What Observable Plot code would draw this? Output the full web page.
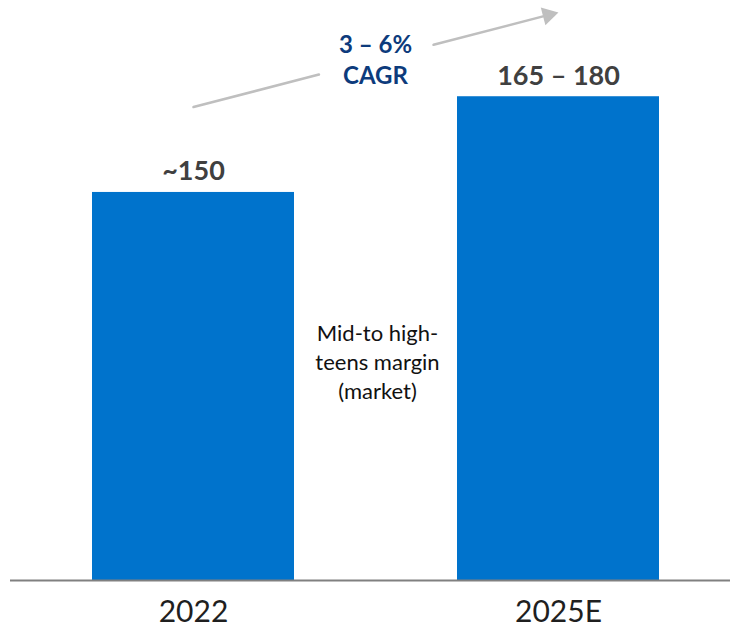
<!DOCTYPE html>
<html>
<head>
<meta charset="utf-8">
<script src="https://cdn.jsdelivr.net/npm/d3@7"></script>
<script src="https://cdn.jsdelivr.net/npm/@observablehq/plot@0.6"></script>
<style>
  html, body { margin: 0; padding: 0; background: #fff; }
  #chart { width: 730px; height: 630px; }
</style>
</head>
<body>
<div id="chart"></div>
<script>
// ---- data ----
const categories = ["2022", "2025E"];
const barValues = [150, 187];              // visual bar heights (market size)
const valueLabels = ["~150", "165 – 180"];
const cagrLines = ["3 – 6%", "CAGR"];
const noteLines = ["Mid-to high-", "teens margin", "(market)"];
const arrowFrom = "2022";
const arrowTo = "2025E";
const arrowY = [183, 219.6];

const bars = categories.map((c, i) => ({cat: c, value: barValues[i], label: valueLabels[i]}));
const arrowData = [{x1: arrowFrom, x2: arrowTo, y1: arrowY[0], y2: arrowY[1]}];

const font = "Lato, 'Open Sans', sans-serif";

const chart = Plot.plot({
  width: 730,
  height: 630,
  marginLeft: 10,
  marginRight: 0,
  marginTop: 0,
  marginBottom: 50,
  style: {fontFamily: font, background: "#fff", overflow: "visible"},
  x: {domain: categories, paddingInner: 0.446, paddingOuter: 0.2093, align: 0.537, label: null},
  y: {domain: [0, 224.2], axis: null},
  marks: [
    Plot.barY(bars, {x: "cat", y: "value", fill: "#0073CC"}),
    Plot.ruleY([0], {stroke: "#808080", strokeWidth: 2}),
    Plot.axisX({tickSize: 0, tickPadding: 20, fontSize: 30, color: "#1f1f1f", label: null}),
    Plot.text(bars, {x: "cat", y: "value", text: "label", lineAnchor: "bottom", dy: -12,
      fontSize: 27, fontWeight: "bold", fill: "#404040"}),
    // growth arrow (two segments with a gap for the CAGR label)
    Plot.arrow(arrowData, {x1: "x1", y1: "y1", x2: "x2", y2: "y2", stroke: "#BFBFBF", strokeWidth: 2.5,
      headLength: 0, insetEnd: 247.5}),
    Plot.arrow(arrowData, {x1: "x1", y1: "y1", x2: "x2", y2: "y2", stroke: "#BFBFBF", strokeWidth: 2.5,
      headLength: 0, insetStart: 248, insetEnd: 13}),
    Plot.dot(arrowData, {x: "x2", y: "y2", symbol: "triangle", r: 6.8, rotate: 75.4,
      fill: "#BFBFBF", stroke: null, dx: -10.3, dy: 2.7}),
    Plot.text([cagrLines.join("\n")], {frameAnchor: "top", lineAnchor: "top", dx: 5, dy: 31,
      fontSize: 24, fontWeight: "bold", fill: "#0D3B7C", lineHeight: 1.27}),
    Plot.text([noteLines.join("\n")], {frameAnchor: "middle", lineAnchor: "middle", dx: 7, dy: 70,
      fontSize: 22, fill: "#111", lineHeight: 1.33})
  ]
});
document.getElementById("chart").appendChild(chart);
</script>
</body>
</html>
